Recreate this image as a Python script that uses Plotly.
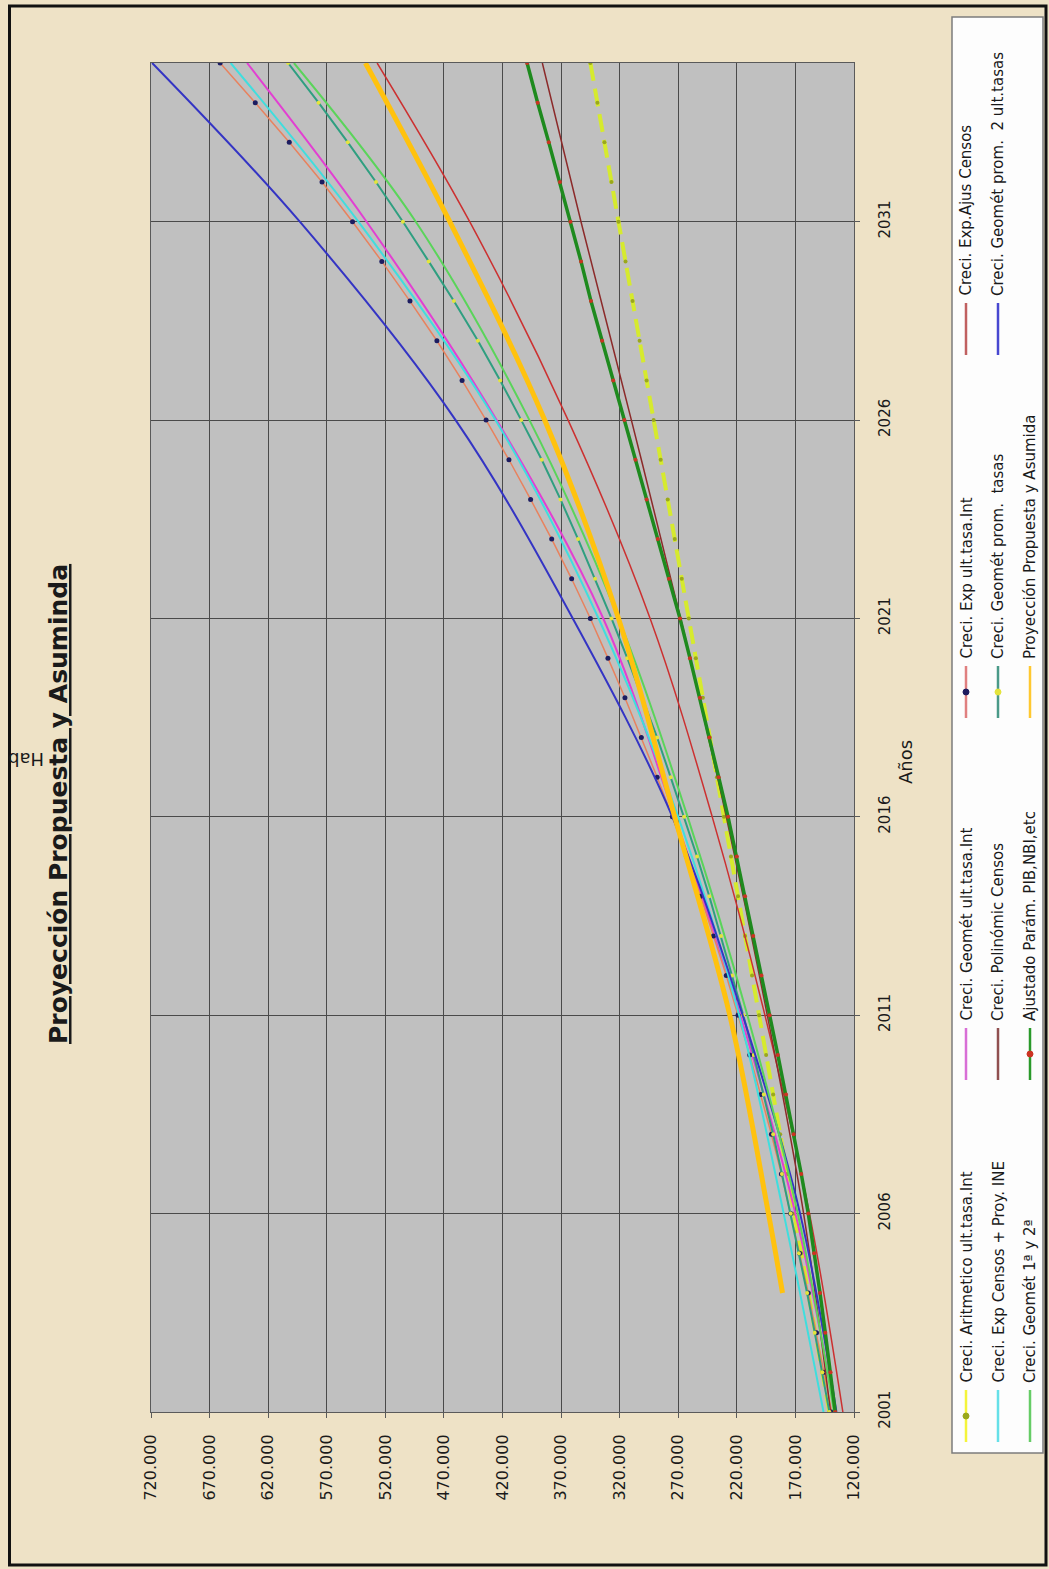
import plotly.graph_objects as go

W, H = 1049, 1569

# ---- data -------------------------------------------------------------
YEARS = list(range(2001, 2036))
ANCHOR_YEARS = [2001, 2006, 2011, 2016, 2021, 2026, 2031, 2035]
PROY_YEARS = [2004, 2006, 2011, 2016, 2021, 2026, 2031, 2035]

# yearly series (drawn with markers)
aritmetico = [141000, 147000, 153000, 159000, 165000, 171000, 177000, 183000, 189000, 195000,
              201000, 207000, 213000, 219000, 225000, 231000, 237000, 243000, 249000, 255000,
              261000, 267000, 273000, 279000, 285000, 291000, 297000, 303000, 309000, 315000,
              321000, 327000, 333000, 339000, 345000]
exp_ult = [139000, 145500, 152000, 159000, 166500, 174000, 182000, 190500, 199500, 209000,
           219000, 229000, 240000, 251000, 263000, 275000, 288000, 301500, 315500, 330000,
           345000, 361000, 378000, 396000, 414500, 434000, 454500, 476000, 499000, 523000,
           548000, 574000, 602000, 631000, 661000]
geomet_prom = [141000, 147000, 153500, 160000, 167000, 174000, 181500, 189000, 197000, 205500,
               214500, 224000, 233500, 243500, 254000, 265000, 276500, 288000, 300500, 313500,
               327000, 341000, 355500, 370500, 386500, 404000, 422000, 441000, 461500, 483000,
               505000, 528000, 552000, 577000, 603000]
ajustado = [136000, 140000, 144500, 149000, 154000, 159000, 165000, 171500, 178000, 185000,
            192000, 199000, 206000, 213000, 220000, 227500, 235500, 243500, 251500, 260000,
            268500, 278000, 287500, 297000, 306500, 316000, 325500, 335000, 344500, 353000,
            362000, 371000, 380500, 390000, 399000]

# series read every five years
geomet_ult = [136000, 170000, 217000, 273000, 334000, 425000, 536000, 638000]
exp_ajus = [129500, 158000, 196000, 241000, 294000, 364000, 448000, 527000]
exp_censos_ine = [146000, 180000, 218000, 270000, 338000, 426000, 543000, 652000]
polinomic = [140000, 163000, 194000, 229000, 268000, 310000, 353000, 386000]
geomet_prom_2ult = [135000, 166000, 215000, 275000, 360000, 460000, 593000, 719000]
geomet_1y2 = [137000, 168000, 211000, 262000, 321000, 397000, 494000, 598000]
proyeccion = [181000, 193000, 226000, 273000, 321000, 384000, 465000, 537000]

HAB_TICKS = [120000, 170000, 220000, 270000, 320000, 370000, 420000,
             470000, 520000, 570000, 620000, 670000, 720000]
HAB_LABELS = ["120.000", "170.000", "220.000", "270.000", "320.000", "370.000", "420.000",
              "470.000", "520.000", "570.000", "620.000", "670.000", "720.000"]
YEAR_TICKS = [2001, 2006, 2011, 2016, 2021, 2026, 2031]
YEAR_LABELS = ["2001", "2006", "2011", "2016", "2021", "2026", "2031"]

TITLE = "Proyección Propuesta y Asuminda"
X_TITLE = "Años"
Y_TITLE = "Hab"

LEGEND_NAMES = [
    "Creci. Aritmetico ult.tasa.Int", "Creci. Geomét ult.tasa.Int",
    "Creci. Exp ult.tasa.Int", "Creci. Exp.Ajus Censos",
    "Creci. Exp Censos + Proy. INE", "Creci. Polinómic Censos",
    "Creci. Geomét prom.  tasas", "Creci. Geomét prom.  2 ult.tasas",
    "Creci. Geomét 1ª y 2ª", "Ajustado Parám. PIB,NBI,etc",
    "Proyección Propuesta y Asumida",
]

# ---- styles --------------------------------------------------------------
FONT = "DejaVu Sans"
BG = "#eee2c6"
PLOT_BG = "#c0c0c0"
GRID = "#4a4a4a"

STYLES = [
    # line colour, width, dash, marker colour, marker size, legend line colour
    dict(color="#d6ea2e", width=4, dash="18px,8px", mcolor="#9aa81c", msize=4, lcolor="#f4f43a"),
    dict(color="#e23fd2", width=2, dash="solid", mcolor=None, msize=0, lcolor="#d86ed6"),
    dict(color="#e8825e", width=1.5, dash="solid", mcolor="#1c1c60", msize=5, lcolor="#e08080"),
    dict(color="#cc3030", width=1.5, dash="solid", mcolor=None, msize=0, lcolor="#c06060"),
    dict(color="#3fdede", width=2, dash="solid", mcolor=None, msize=0, lcolor="#66e0e8"),
    dict(color="#8c2a2a", width=1.5, dash="solid", mcolor=None, msize=0, lcolor="#905050"),
    dict(color="#2f9f80", width=2, dash="solid", mcolor="#e4e43c", msize=4, lcolor="#4a9a88"),
    dict(color="#3434c4", width=2, dash="solid", mcolor=None, msize=0, lcolor="#4848d0"),
    dict(color="#5ad45a", width=2, dash="solid", mcolor=None, msize=0, lcolor="#66cc66"),
    dict(color="#1e8a1e", width=3.5, dash="solid", mcolor="#cc3322", msize=4, lcolor="#2a9a2a"),
    dict(color="#ffc20e", width=5, dash="solid", mcolor=None, msize=0, lcolor="#ffc830"),
]

SERIES = [
    (aritmetico, YEARS, "linear"),
    (geomet_ult, ANCHOR_YEARS, "spline"),
    (exp_ult, YEARS, "linear"),
    (exp_ajus, ANCHOR_YEARS, "spline"),
    (exp_censos_ine, ANCHOR_YEARS, "spline"),
    (polinomic, ANCHOR_YEARS, "spline"),
    (geomet_prom, YEARS, "linear"),
    (geomet_prom_2ult, ANCHOR_YEARS, "spline"),
    (geomet_1y2, ANCHOR_YEARS, "spline"),
    (ajustado, YEARS, "linear"),
    (proyeccion, PROY_YEARS, "spline"),
]

# plot box in pixels
PL, PR, PT, PB = 151, 854, 63, 1412


def px(x):
    return x / W


def py(y):
    return 1 - y / H


fig = go.Figure()

for (vals, yrs, shape), name, st in zip(SERIES, LEGEND_NAMES, STYLES):
    mode = "lines+markers" if st["mcolor"] else "lines"
    fig.add_trace(go.Scatter(
        x=vals, y=yrs, name=name, mode=mode,
        line=dict(color=st["color"], width=st["width"], dash=st["dash"], shape=shape),
        marker=dict(color=st["mcolor"] or st["color"], size=st["msize"]),
        showlegend=False, hoverinfo="skip",
    ))

fig.update_layout(
    width=W, height=H, autosize=False, template="none",
    margin=dict(l=0, r=0, t=0, b=0),
    paper_bgcolor=BG, plot_bgcolor=PLOT_BG,
    showlegend=False,
    font=dict(family=FONT, size=15, color="#1a1a1a"),
    xaxis=dict(
        domain=[px(PL), px(PR)], range=[720000, 120000],
        tickvals=HAB_TICKS, ticktext=HAB_LABELS, tickangle=-90,
        showgrid=True, gridcolor=GRID, gridwidth=1,
        showline=True, linecolor="#5a5a5a", linewidth=1, mirror=True,
        ticks="outside", ticklen=5, tickcolor="#5a5a5a",
        ticklabelstandoff=10,
        tickfont=dict(family=FONT, size=16, color="#1a1a1a"),
        zeroline=False, automargin=False, fixedrange=True,
    ),
    yaxis=dict(
        domain=[py(PB), py(PT)], range=[2001, 2035], side="right",
        tickvals=YEAR_TICKS, ticktext=YEAR_LABELS, tickangle=-90,
        showgrid=True, gridcolor=GRID, gridwidth=1,
        showline=True, linecolor="#5a5a5a", linewidth=1, mirror=True,
        ticks="outside", ticklen=5, tickcolor="#5a5a5a",
        ticklabelstandoff=12,
        tickfont=dict(family=FONT, size=15, color="#1a1a1a"),
        zeroline=False, automargin=False, fixedrange=True,
    ),
)

shapes = []
annotations = []

# outer frame
shapes.append(dict(type="rect", xref="paper", yref="paper",
                   x0=px(9.5), x1=px(1046), y0=py(1565), y1=py(6),
                   line=dict(color="#111111", width=3), fillcolor="rgba(0,0,0,0)"))

# legend box
shapes.append(dict(type="rect", xref="paper", yref="paper",
                   x0=px(952), x1=px(1043), y0=py(1453), y1=py(17),
                   line=dict(color="#7c7c7c", width=1.5), fillcolor="#fdfdfd"))

LEG_COLS = [966, 998, 1030]
LEG_ROWS = [1442, 1080, 718, 355]
SYM_LEN = 52

for i, (name, st) in enumerate(zip(LEGEND_NAMES, STYLES)):
    cx = LEG_COLS[i // 4]
    b = LEG_ROWS[i % 4]
    shapes.append(dict(type="line", xref="paper", yref="paper",
                       x0=px(cx), x1=px(cx), y0=py(b), y1=py(b - SYM_LEN),
                       line=dict(color=st["lcolor"], width=2.5)))
    if st["mcolor"]:
        r = 3
        mid = b - SYM_LEN / 2
        shapes.append(dict(type="circle", xref="paper", yref="paper",
                           x0=px(cx - r), x1=px(cx + r), y0=py(mid + r), y1=py(mid - r),
                           line=dict(color=st["mcolor"], width=1), fillcolor=st["mcolor"]))
    annotations.append(dict(text=name, xref="paper", yref="paper",
                            x=px(cx), y=py(b - SYM_LEN - 5),
                            xanchor="center", yanchor="bottom", textangle=-90,
                            showarrow=False,
                            font=dict(family=FONT, size=15, color="#1a1a1a")))

# titles
annotations.append(dict(text="<b><u>" + TITLE + "</u></b>", xref="paper", yref="paper",
                        x=px(58), y=py(804), xanchor="center", yanchor="middle",
                        textangle=-90, showarrow=False,
                        font=dict(family=FONT, size=25, color="#1a1a1a")))
annotations.append(dict(text=X_TITLE, xref="paper", yref="paper",
                        x=px(905), y=py(762), xanchor="center", yanchor="middle",
                        textangle=-90, showarrow=False,
                        font=dict(family=FONT, size=18, color="#1a1a1a")))
annotations.append(dict(text=Y_TITLE, xref="paper", yref="paper",
                        x=px(26), y=py(760), xanchor="center", yanchor="middle",
                        textangle=180, showarrow=False,
                        font=dict(family=FONT, size=18, color="#1a1a1a")))

fig.update_layout(shapes=shapes, annotations=annotations)

fig.write_html("out.html")
